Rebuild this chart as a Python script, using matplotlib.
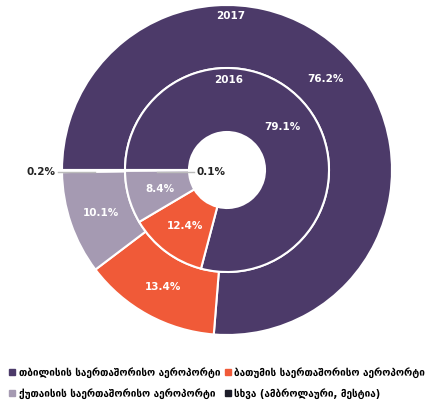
import matplotlib.pyplot as plt
import numpy as np
from matplotlib.lines import Line2D

plt.rcParams['font.family'] = ['DejaVu Sans']

airports = ["თბილისის საერთაშორისო აეროპორტი",
            "ბათუმის საერთაშორისო აეროპორტი",
            "ქუთაისის საერთაშორისო აეროპორტი",
            "სხვა (ამბროლაური, მესტია)"]
share_2017 = [76.2, 13.4, 10.1, 0.2]
share_2016 = [79.1, 12.4, 8.4, 0.1]
colors = ["#4c3a69", "#f05a38", "#a59ab2", "#1c1c28"]

W, H = 434, 403
cx, cy, R = 227, 170, 165

fig = plt.figure(figsize=(W / 100, H / 100), dpi=100)
ax = fig.add_axes([0, 0, 1, 1])

wp = dict(edgecolor="white", linewidth=1.5)
outer, _ = ax.pie(share_2017, radius=1.0, colors=colors, startangle=180,
                  counterclock=False, wedgeprops=dict(width=63 / R, **wp))
inner, _ = ax.pie(share_2016, radius=102 / R, colors=colors, startangle=180,
                  counterclock=False, wedgeprops=dict(width=64 / R, **wp))

ax.set_xlim(-cx / R, (W - cx) / R)
ax.set_ylim(-(H - cy) / R, cy / R)
ax.set_aspect("equal")
ax.axis("off")


def put_labels(wedges, vals, rmid):
    for w, v in zip(wedges[:3], vals[:3]):
        a = np.deg2rad((w.theta1 + w.theta2) / 2)
        ax.text(rmid * np.cos(a), rmid * np.sin(a), f"{v}%", color="white",
                fontsize=7.5, fontweight="bold", ha="center", va="center")


put_labels(outer, share_2017, 133.5 / R)
put_labels(inner, share_2016, 70 / R)

ax.text(0.02, 154 / R, "2017", color="white", fontsize=7.5,
        fontweight="bold", ha="center", va="center")
ax.text(0.01, 90 / R, "2016", color="white", fontsize=7.5,
        fontweight="bold", ha="center", va="center")

# tiny slices with leader lines
ax.plot([(58 - cx) / R, (95 - cx) / R], [-0.012, -0.012], color="#bbbbbb", lw=1)
ax.text((56 - cx) / R, -0.012, f"{share_2017[3]}%", fontsize=7.5,
        fontweight="bold", ha="right", va="center", color="#222222")
ax.plot([(157 - cx) / R, (194 - cx) / R], [-0.012, -0.012], color="#bbbbbb", lw=1)
ax.text((197 - cx) / R, -0.012, f"{share_2016[3]}%", fontsize=7.5,
        fontweight="bold", ha="left", va="center", color="#222222")

# legend filled row by row: column-major order for ncol=2
order = [0, 2, 1, 3]
handles = [Line2D([], [], marker="s", color=colors[i], linestyle="",
                  markersize=4) for i in order]
fig.legend(handles, [airports[i] for i in order], loc="lower left",
           bbox_to_anchor=(0.0, -0.012), ncol=2, frameon=False,
           handlelength=0.6, handletextpad=0.4, columnspacing=0.4,
           labelspacing=1.05, prop=dict(weight="bold", size=7.2))

fig.savefig("out.png", dpi=100)
